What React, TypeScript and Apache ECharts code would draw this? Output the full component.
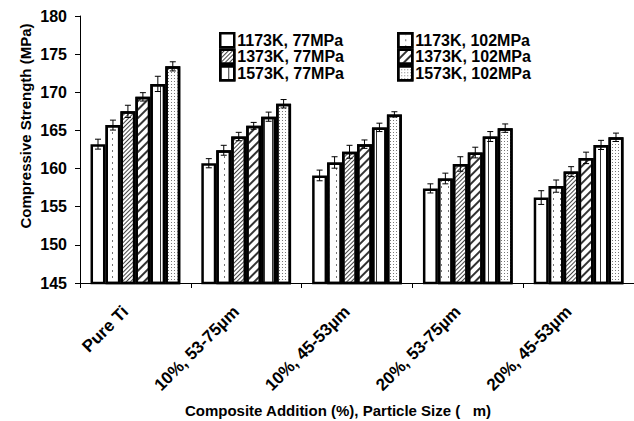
import React, { useEffect, useRef } from "react";
import * as echarts from "echarts";

const categories = ["Pure Ti", "10%, 53-75µm", "10%, 45-53µm", "20%, 53-75µm", "20%, 45-53µm"];
const seriesNames = [
  "1173K, 77MPa",
  "1173K, 102MPa",
  "1373K, 77MPa",
  "1373K, 102MPa",
  "1573K, 77MPa",
  "1573K, 102MPa",
];
const s1173k77 = [163.2, 160.7, 159.1, 157.4, 156.2];
const s1173k102 = [165.7, 162.4, 160.8, 158.7, 157.7];
const s1373k77 = [167.5, 164.2, 162.2, 160.6, 159.6];
const s1373k102 = [169.4, 165.6, 163.2, 162.1, 161.4];
const s1573k77 = [171.1, 166.8, 165.4, 164.2, 163.1];
const s1573k102 = [173.4, 168.5, 167.1, 165.3, 164.1];

const e1173k77 = [0.65, 0.6, 0.7, 0.6, 0.9];
const e1173k102 = [0.65, 0.65, 0.75, 0.7, 0.8];
const e1373k77 = [0.8, 0.55, 0.85, 0.95, 0.65];
const e1373k102 = [0.55, 0.45, 0.55, 0.7, 0.75];
const e1573k77 = [1.0, 0.6, 0.55, 0.65, 0.6];
const e1573k102 = [0.6, 0.55, 0.35, 0.55, 0.55];

const yTicks = [145, 150, 155, 160, 165, 170, 175, 180];

const values = [s1173k77, s1173k102, s1373k77, s1373k102, s1573k77, s1573k102];
const errors = [e1173k77, e1173k102, e1373k77, e1373k102, e1573k77, e1573k102];

const FONT = "Liberation Sans, Arial, sans-serif";
const GAP = 0.19;

const decals: any[] = [
  null,
  { symbol: "rect", symbolSize: 1, dashArrayX: [1, 6], dashArrayY: [2, 4], color: "#777" },
  { symbol: "rect", symbolSize: 1, dashArrayX: [1, 0], dashArrayY: [1, 2], rotation: -Math.PI / 4, color: "#444" },
  { symbol: "rect", symbolSize: 1, dashArrayX: [1, 0], dashArrayY: [2, 4], rotation: -Math.PI / 4, color: "#333" },
  { symbol: "rect", symbolSize: 1, dashArrayX: [1, 7], dashArrayY: [1, 0], color: "#333" },
  { symbol: "rect", symbolSize: 1, dashArrayX: [1, 2], dashArrayY: [1, 2], color: "#777" },
];

export default function App() {
  const ref = useRef<HTMLDivElement>(null);
  useEffect(() => {
    if (!ref.current) return;
    const chart = echarts.init(ref.current, undefined, { renderer: "svg" });

    const barSeries = seriesNames.map((name, i) => {
      const itemStyle: any = { color: "#fff", borderColor: "#000", borderWidth: 2.5 };
      if (decals[i]) itemStyle.decal = decals[i];
      return {
        name,
        type: "bar",
        data: values[i],
        barGap: "0%",
        barCategoryGap: GAP * 100 + "%",
        itemStyle,
        emphasis: { disabled: true },
      };
    });

    const errData: number[][] = [];
    values.forEach((arr, i) => {
      arr.forEach((v, j) => {
        errData.push([j, i, v - errors[i][j], v + errors[i][j]]);
      });
    });

    const legendCommon = {
      orient: "vertical",
      padding: 0,
      itemWidth: 14,
      itemHeight: 14,
      itemGap: 0,
      icon: "rect",
      selectedMode: false,
      itemStyle: { borderColor: "#000", borderWidth: 2.5 },
      textStyle: { fontFamily: FONT, fontWeight: "bold", fontSize: 16, color: "#000", padding: [0, 0, 0, -2] },
    };

    chart.setOption({
      animation: false,
      backgroundColor: "#fff",
      grid: { left: 80, top: 16, height: 267, width: 559, containLabel: false },
      legend: [
        { ...legendCommon, left: 219, top: 32, data: [seriesNames[0], seriesNames[2], seriesNames[4]] },
        { ...legendCommon, left: 397, top: 32, data: [seriesNames[1], seriesNames[3], seriesNames[5]] },
      ],
      xAxis: {
        type: "category",
        data: categories,
        axisLine: { lineStyle: { color: "#000", width: 1 } },
        axisTick: { show: true, length: 5, lineStyle: { color: "#000" } },
        axisLabel: {
          interval: 0,
          rotate: 45,
          margin: 16,
          padding: [0, 14, 0, 0],
          fontFamily: FONT,
          fontWeight: "bold",
          fontSize: 17,
          color: "#000",
        },
      },
      yAxis: {
        type: "value",
        min: yTicks[0],
        max: yTicks[yTicks.length - 1],
        interval: 5,
        splitLine: { show: false },
        axisLine: { show: true, lineStyle: { color: "#000", width: 1 } },
        axisTick: { show: true, length: 5, lineStyle: { color: "#000" } },
        axisLabel: { margin: 13, fontFamily: FONT, fontWeight: "bold", fontSize: 16, color: "#000" },
      },
      series: [
        ...barSeries,
        {
          type: "custom",
          name: "errors",
          data: errData,
          encode: { x: 0, y: [2, 3] },
          z: 10,
          renderItem: (params: any, api: any) => {
            const cat = api.value(0);
            const si = api.value(1);
            const lo = api.coord([cat, api.value(2)]);
            const hi = api.coord([cat, api.value(3)]);
            const band = api.size([1, 0])[0];
            const bw = (band * (1 - GAP)) / 6;
            const x = lo[0] + (si - 2.5) * bw;
            const cap = 3;
            const st = { stroke: "#000", lineWidth: 1 };
            return {
              type: "group",
              children: [
                { type: "line", shape: { x1: x, y1: lo[1], x2: x, y2: hi[1] }, style: st },
                { type: "line", shape: { x1: x - cap, y1: hi[1], x2: x + cap, y2: hi[1] }, style: st },
                { type: "line", shape: { x1: x - cap, y1: lo[1], x2: x + cap, y2: lo[1] }, style: st },
              ],
            };
          },
        },
      ],
      graphic: [
        {
          type: "text",
          x: 25,
          y: 126,
          rotation: Math.PI / 2,
          style: {
            text: "Compressive Strength (MPa)",
            textAlign: "center",
            textVerticalAlign: "middle",
            font: `bold 15px ${FONT}`,
            fill: "#000",
          },
        },
        {
          type: "text",
          x: 338,
          y: 410,
          style: {
            text: "Composite Addition (%), Particle Size (   m)",
            textAlign: "center",
            textVerticalAlign: "middle",
            font: `bold 15px ${FONT}`,
            fill: "#000",
          },
        },
      ],
    });
    return () => chart.dispose();
  }, []);
  return <div ref={ref} style={{ position: "fixed", left: 0, top: 0, width: 634, height: 421 }} />;
}
